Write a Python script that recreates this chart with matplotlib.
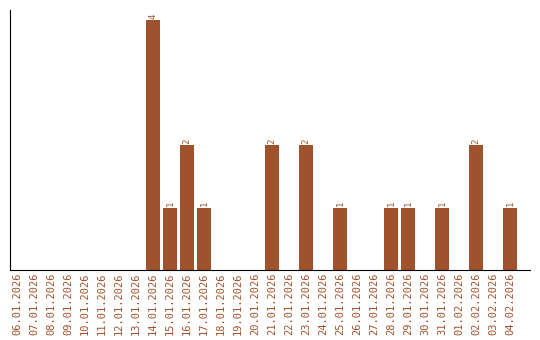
import matplotlib
matplotlib.use("Agg")
import matplotlib.pyplot as plt

dates = ["06.01.2026", "07.01.2026", "08.01.2026", "09.01.2026", "10.01.2026",
         "11.01.2026", "12.01.2026", "13.01.2026", "14.01.2026", "15.01.2026",
         "16.01.2026", "17.01.2026", "18.01.2026", "19.01.2026", "20.01.2026",
         "21.01.2026", "22.01.2026", "23.01.2026", "24.01.2026", "25.01.2026",
         "26.01.2026", "27.01.2026", "28.01.2026", "29.01.2026", "30.01.2026",
         "31.01.2026", "01.02.2026", "02.02.2026", "03.02.2026", "04.02.2026"]
counts = [0, 0, 0, 0, 0, 0, 0, 0, 4, 1, 2, 1, 0, 0, 0,
          2, 0, 2, 0, 1, 0, 0, 1, 1, 0, 1, 0, 2, 0, 1]

color = "#A0522D"
fig = plt.figure(figsize=(5.4, 3.4), dpi=100)
ax = fig.add_axes([10/540, 1 - 270/340, 520/540, 260/340])
x = list(range(len(dates)))
ax.bar(x, counts, width=0.82, color=color)
ax.set_xlim(-7/17, 513/17)
ax.set_ylim(0, 4.16)
for xi, v in zip(x, counts):
    if v > 0:
        ax.text(xi, v + 0.02, str(v), rotation=90, ha="center", va="bottom",
                color=color, fontsize=6.5, family="DejaVu Sans Mono")
ax.set_xticks(x)
ax.set_xticklabels(dates, rotation=90, color=color, fontsize=7.5,
                   family="DejaVu Sans Mono")
ax.tick_params(axis="x", length=0, pad=2)
ax.set_yticks([])
for s in ["top", "right"]:
    ax.spines[s].set_visible(False)
ax.spines["left"].set_color("black")
ax.spines["bottom"].set_color("black")
fig.savefig("out.png", dpi=100)
